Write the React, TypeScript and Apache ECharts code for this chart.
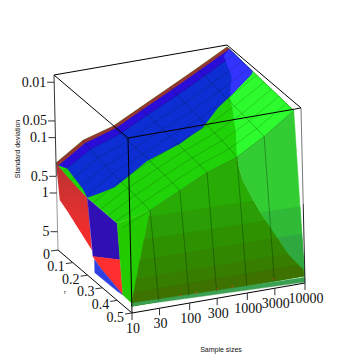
import React, { useEffect, useRef } from "react";
import * as echarts from "echarts";

// ---------- axes ----------
const sampleSizes = [10, 30, 100, 300, 1000, 3000, 10000];
const sampleLabels = ["10", "30", "100", "300", "1000", "3000", "10000"];
const rRows = [0, 0.05, 0.1, 0.15, 0.2, 0.25, 0.3, 0.35, 0.4, 0.45];
const rTicks = [0, 0.1, 0.2, 0.3, 0.4, 0.5];
const rLabels = ["0", "0.1", "0.2", "0.3", "0.4", "0.5"];
const sdTicks = [0.01, 0.05, 0.1, 0.5, 1, 5];
const sdLabels = ["0.01", "0.05", "0.1", "0.5", "1", "5"];
const SD_TOP = 0.0074;
const SD_FLOOR = 10.7;
const SD_BASE = 8;

// ---------- surface: one row of standard deviations per sample size ----------
const sdAt10 = [0.288, 0.319, 0.351, 0.377, 0.4, 0.406, 0.408, 0.408, 0.406, 0.406];
const sdAt30 = [0.136, 0.152, 0.166, 0.179, 0.19, 0.199, 0.207, 0.215, 0.226, 0.238];
const sdAt100 = [0.0946, 0.098, 0.102, 0.104, 0.106, 0.109, 0.113, 0.116, 0.122, 0.13];
const sdAt300 = [0.0528, 0.0552, 0.0577, 0.0598, 0.0621, 0.0638, 0.0658, 0.0678, 0.0708, 0.0745];
const sdAt1000 = [0.0281, 0.03, 0.032, 0.0339, 0.0357, 0.0376, 0.0395, 0.0416, 0.0448, 0.0488];
const sdAt3000 = [0.0156, 0.0165, 0.0175, 0.0184, 0.0194, 0.0204, 0.0213, 0.0224, 0.0238, 0.0254];
const sdAt10000 = [0.00804, 0.00826, 0.00857, 0.00883, 0.00908, 0.00935, 0.00964, 0.00991, 0.0103, 0.0107];
const sdTable = [sdAt10, sdAt30, sdAt100, sdAt300, sdAt1000, sdAt3000, sdAt10000];

// ---------- regions on the surface: [sample size, r] ----------
const blueEdge = [
  [10, 0.01], [11.7, 0.047], [11, 0.166], [10, 0.21], [14.6, 0.233], [23, 0.256], [38.6, 0.253],
  [93, 0.24], [321, 0.257], [542, 0.25], [832, 0.248], [1950, 0.21], [3390, 0.2], [9120, 0.18], [10000, 0.17],
];
const paleBlue = [[7500, 0.027], [10000, 0.014], [10000, 0.17], [9120, 0.18], [3390, 0.2], [5560, 0.13]];
const brightGreen = [
  [3390, 0.2], [9120, 0.18], [10000, 0.17], [10000, 0.45], [3000, 0.45], [1000, 0.45], [1660, 0.36], [2640, 0.26],
];
const brownR = 0.014;
const deepBlueR = 0.05;
const edgeR = 0.45;

// ---------- side at n = 10: [r, sd] ----------
const redUpper = [[0, 0.288], [0.21, 0.41], [0.234, 3.16], [0.075, 1.5], [0.02, 1.2]];
const blueWall = [[0.21, 0.41], [0.412, 0.41], [0.425, 1.74], [0.24, 4]];
const redLower = [[0.24, 4], [0.425, 1.74], [0.44, 6.9], [0.287, 4.9]];
const blueLower = [[0.25, 4.3], [0.25, 7.4], [0.407, 7.2], [0.44, 6.9], [0.287, 4.9]];
// [n, r, sd]
const frontGreen = [[10, 0.412, 0.41], [30, 0.45, 0.238], [10, 0.5, 7.1], [10, 0.44, 6.9]];

// ---------- front wall: [n, sd] ----------
const wallCurve = [[1000, 0.049], [1050, 0.075], [1175, 0.126], [2000, 0.45], [3310, 1.12], [5750, 3.1], [10000, 6.25]];
const darkLevels = [0.3, 0.7, 1.5, 3, 5];
const darkLeftN = [27.9, 21.4, 16.9, 13.6, 11.6];
const darkRightN = [1650, 2700, 3900, 5900, 8600];
const darkColors = ["#2a9e04", "#2e9200", "#328700", "#377d00", "#3d7200"];
const paleLevels = [0.5, 1.5];
const paleLeftN = [2200, 3900];
const paleColors = ["#31ba38", "#2fa840"];
const stripTop = [[10, 7.1], [10000, 8.4]];
const stripBottom = [[10, 8], [10000, 10.3]];
const redSpecks = [70, 85, 100, 130, 170, 300, 550, 1000, 2900];

const project = (n: number, r: number, sd: number) => {
  const u = Math.log10(n) - 1;
  const v = (0.5 - r) / 0.5;
  const w = (Math.log10(SD_FLOOR) - Math.log10(sd)) / (Math.log10(SD_FLOOR) - Math.log10(SD_TOP));
  return [132 + 57.67 * u - 74 * v - 4 * w, 313 - 10 * u - 63 * v - 175 * w];
};

const surfaceSd = (n: number, r: number) => {
  const logs = sampleSizes.map((s) => Math.log10(s));
  const ln = Math.log10(n);
  let i = 0;
  while (i < logs.length - 2 && ln > logs[i + 1]) i++;
  const fu = (ln - logs[i]) / (logs[i + 1] - logs[i]);
  let j = 0;
  while (j < rRows.length - 2 && r > rRows[j + 1]) j++;
  const fv = Math.min(1, (r - rRows[j]) / (rRows[j + 1] - rRows[j]));
  const at = (a: number, b: number) => Math.log10(sdTable[a][b]);
  const top = at(i, j) * (1 - fu) + at(i + 1, j) * fu;
  const bot = at(i, j + 1) * (1 - fu) + at(i + 1, j + 1) * fu;
  return Math.pow(10, top * (1 - fv) + bot * fv);
};

const onSurface = (n: number, r: number) => project(n, r, surfaceSd(n, r));
const onWall = (n: number, sd: number) => {
  const top = Math.log10(surfaceSd(n, edgeR));
  const f = (Math.log10(SD_FLOOR) - Math.log10(sd)) / (Math.log10(SD_FLOOR) - top);
  return project(n, 0.5 - 0.05 * Math.min(1, f), sd);
};

export default function App() {
  const ref = useRef<HTMLDivElement>(null);
  useEffect(() => {
    document.body.style.margin = "0";
    const chart = echarts.init(ref.current!, null, { renderer: "svg" });
    const renderItem = (_: any, api: any) => {
      const px = (p: number[]) => api.coord(p);
      const children: any[] = [];
      const poly = (pts: number[][], fill: any) =>
        children.push({
          type: "polygon",
          shape: { points: pts.map(px) },
          style: { fill, stroke: typeof fill === "string" ? fill : "none", lineWidth: 0.4 },
        });
      const line = (pts: number[][], stroke: string, lineWidth: number) =>
        children.push({ type: "polyline", shape: { points: pts.map(px) }, style: { stroke, lineWidth, fill: "none" } });
      const label = (p: number[], text: string, textAlign: string, fontSize = 14, rotation = 0, font = "Liberation Serif") => {
        const c = px(p);
        children.push({
          type: "text",
          x: c[0],
          y: c[1],
          rotation,
          style: { text, fill: "#111", fontFamily: font, fontSize, textAlign, textVerticalAlign: "middle" },
        });
      };
      const shift = (p: number[], dx: number, dy: number) => [p[0] + dx, p[1] + dy];

      const tenWall = (list: number[][]) => list.map(([r, sd]) => project(10, r, sd));
      poly(tenWall(redUpper), new echarts.graphic.LinearGradient(0, 0, 0, 1, [
        { offset: 0, color: "#b83232" }, { offset: 0.5, color: "#dd3030" }, { offset: 1, color: "#ff2a2a" },
      ]));
      poly(tenWall(blueWall), "#3010b4");
      poly(tenWall(redLower), "#ff2f2f");
      poly(tenWall(blueLower), "#3040e0");

      // surface
      const ticksAt = (r: number) => sampleSizes.map((n) => onSurface(n, r));
      const tenRows = rRows.filter((r) => r <= 0.2).map((r) => onSurface(10, r));
      poly(
        [...tenRows, onSurface(10, 0.412), ...sampleSizes.slice(1).map((n) => onSurface(n, edgeR)), ...ticksAt(0).reverse()],
        "#20d208"
      );
      poly(brightGreen.map(([n, r]) => onSurface(n, r)), "#2dfb2d");
      poly([...blueEdge.map(([n, r]) => onSurface(n, r)), ...ticksAt(brownR).reverse()], "#0c2ed2");
      poly([onSurface(10, 0.01), onSurface(11.7, 0.047), ...sampleSizes.slice(1).map((n) => onSurface(n, deepBlueR)), ...ticksAt(brownR).reverse()], "#2a0cd8");
      poly(paleBlue.map(([n, r]) => onSurface(n, r)), "#3333ff");
      poly([...ticksAt(0), ...ticksAt(brownR).reverse()], "#963333");

      // front
      poly(frontGreen.map(([n, r, sd]) => project(n, r, sd)), "#22cc00");
      const topEdge = sampleSizes.slice(1).map((n) => onSurface(n, edgeR));
      poly(
        [
          ...topEdge.slice(0, 4),
          ...wallCurve.map(([n, sd]) => onWall(n, sd)),
          onWall(10000, SD_BASE),
          project(10, 0.5, SD_BASE),
        ],
        "#28ab04"
      );
      darkLevels.forEach((lv, i) => {
        const lower = wallCurve.filter(([, sd]) => sd > lv);
        poly(
          [
            onWall(darkLeftN[i], lv),
            onWall(darkRightN[i], lv),
            ...lower.map(([n, sd]) => onWall(n, sd)),
            onWall(10000, SD_BASE),
            project(10, 0.5, SD_BASE),
          ],
          darkColors[i]
        );
      });
      poly(
        [
          ...topEdge.slice(3),
          onWall(10000, SD_BASE),
          ...[...wallCurve].reverse().map(([n, sd]) => onWall(n, sd)),
        ],
        "#33cc33"
      );
      paleLevels.forEach((lv, i) => {
        const lower = wallCurve.filter(([, sd]) => sd > lv);
        poly(
          [
            onWall(paleLeftN[i], lv),
            onWall(10000, lv),
            onWall(10000, SD_BASE),
            ...[...lower].reverse().map(([n, sd]) => onWall(n, sd)),
          ],
          paleColors[i]
        );
      });
      poly(
        [...stripTop.map(([n, sd]) => project(n, 0.5, sd)), ...[...stripBottom].reverse().map(([n, sd]) => project(n, 0.5, sd))],
        "#3aa052"
      );
      redSpecks.forEach((n) => {
        const c = px(project(n, 0.5, 7.3));
        children.push({ type: "circle", shape: { cx: c[0], cy: c[1], r: 0.7 }, style: { fill: "#e04030" } });
      });

      // grid of the surface
      rRows.slice(1).forEach((r) => line(sampleSizes.map((n) => onSurface(n, r)), "rgba(0,30,0,0.3)", 0.6));
      sampleSizes.slice(1).forEach((n) => line(rRows.map((r) => onSurface(n, r)), "rgba(0,20,0,0.35)", 0.7));
      sampleSizes.slice(1, -1).forEach((n) => line([onSurface(n, edgeR), onWall(n, SD_BASE)], "rgba(0,30,0,0.42)", 0.8));

      // box
      const c = (n: number, r: number, sd: number) => project(n, r, sd);
      const black = "#000";
      line([c(10, 0, SD_TOP), c(10000, 0, SD_TOP), c(10000, 0.5, SD_TOP), c(10, 0.5, SD_TOP), c(10, 0, SD_TOP)], black, 1);
      line([c(10, 0.5, SD_TOP), c(10, 0.5, SD_FLOOR)], black, 1);
      line([c(10, 0, SD_TOP), c(10, 0, 0.5)], "#333", 1);
      line([c(10, 0, 0.5), c(10, 0, SD_FLOOR)], "#999", 1);
      line([c(10000, 0.5, SD_TOP), c(10000, 0.5, 0.4)], "#777", 1);
      line([c(10000, 0.5, 0.4), c(10000, 0.5, SD_FLOOR)], "#222", 1);
      line([c(10, 0, SD_FLOOR), c(10, 0.5, SD_FLOOR), c(10000, 0.5, SD_FLOOR)], black, 1);

      // ticks and labels
      sdTicks.forEach((sd, i) => {
        const p = c(10, 0, sd);
        line([p, shift(p, -7, 0)], "#333", 1);
        label(shift(p, -8, 0), sdLabels[i], "right");
      });
      rTicks.forEach((r, i) => {
        const p = c(10, r, SD_FLOOR);
        line([p, shift(p, -7, 1)], "#333", 1);
        label(shift(p, -8, 4), rLabels[i], "right");
      });
      sampleSizes.forEach((n, i) => {
        const p = c(n, 0.5, SD_FLOOR);
        line([p, shift(p, 0, 7)], "#333", 1);
        label(shift(p, 1, 15.5), sampleLabels[i], "center");
      });
      label([17, 149], "Standard deviation", "center", 7, Math.PI / 2, "Liberation Sans");
      label([221, 349], "Sample sizes", "center", 7, 0, "Liberation Sans");
      label([65, 292], "r", "center", 5.5, 0, "Liberation Sans");
      return { type: "group", children };
    };
    chart.setOption({
      animation: false,
      grid: { left: 0, right: 0, top: 0, bottom: 0 },
      xAxis: { type: "value", min: 0, max: 355, show: false },
      yAxis: { type: "value", min: 0, max: 355, inverse: true, show: false },
      series: [
        {
          type: "custom",
          coordinateSystem: "cartesian2d",
          clip: false,
          silent: true,
          data: [[0, 0]],
          renderItem,
        },
      ],
    });
    return () => chart.dispose();
  }, []);
  return <div ref={ref} style={{ width: 355, height: 355, background: "#fff" }} />;
}
